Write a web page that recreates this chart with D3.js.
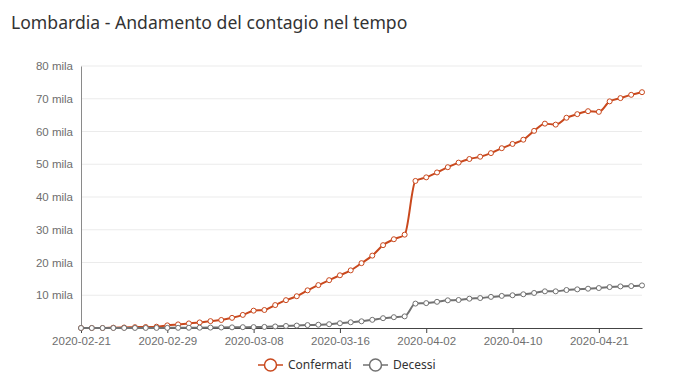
<!DOCTYPE html>
<html>
<head>
<meta charset="utf-8">
<script src="https://cdn.jsdelivr.net/npm/d3@7"></script>
<style>
  body { margin: 0; background: #fff; }
  svg { display: block; font-family: "Noto Sans", "Open Sans", sans-serif; }
  .grid line { stroke: #ebebeb; }
  .axis text { fill: #6e6e6e; font-size: 11.5px; }
</style>
</head>
<body>
<div id="chart"></div>
<script>
// dates on the x axis (source has a gap 03-23 .. 03-31)
var dates = [
  "2020-02-21","2020-02-22","2020-02-23","2020-02-24","2020-02-25","2020-02-26","2020-02-27","2020-02-28",
  "2020-02-29","2020-03-01","2020-03-02","2020-03-03","2020-03-04","2020-03-05","2020-03-06","2020-03-07",
  "2020-03-08","2020-03-09","2020-03-10","2020-03-11","2020-03-12","2020-03-13","2020-03-14","2020-03-15",
  "2020-03-16","2020-03-17","2020-03-18","2020-03-19","2020-03-20","2020-03-21","2020-03-22","2020-04-01",
  "2020-04-02","2020-04-03","2020-04-04","2020-04-05","2020-04-06","2020-04-07","2020-04-08","2020-04-09",
  "2020-04-10","2020-04-11","2020-04-13","2020-04-14","2020-04-15","2020-04-17","2020-04-18","2020-04-20",
  "2020-04-21","2020-04-22","2020-04-23","2020-04-24","2020-04-25"
];

var confermati = [
  0, 0, 0, 100, 150, 250, 300, 400,
  800, 1100, 1400, 1700, 2100, 2450, 3100, 4000,
  5300, 5500, 7000, 8500, 9700, 11500, 13100, 14600,
  16100, 17600, 19800, 22100, 25300, 27100, 28500, 44900,
  46000, 47500, 49100, 50500, 51600, 52300, 53400, 54900,
  56200, 57500, 60200, 62400, 62100, 64200, 65300, 66200,
  66000, 69200, 70200, 71200, 72000
];

var decessi = [
  0, 0, 0, 5, 10, 15, 20, 25,
  40, 55, 75, 100, 130, 160, 200, 250,
  270, 330, 470, 620, 740, 890, 1000, 1150,
  1450, 1750, 2050, 2500, 3000, 3300, 3550, 7450,
  7600, 8000, 8450, 8550, 8950, 9150, 9500, 9800,
  10000, 10300, 10700, 11200, 11200, 11600, 11800, 12000,
  12200, 12500, 12700, 12800, 13000
];

var yTicks = [0, 10000, 20000, 30000, 40000, 50000, 60000, 70000, 80000];

var series = [
  {name: "Confermati", values: confermati, color: "#c9481d"},
  {name: "Decessi", values: decessi, color: "#717171"}
];

var w = 685, h = 391;
var margin = {top: 66, right: 43, bottom: 63, left: 81};
var iw = w - margin.left - margin.right;
var ih = h - margin.top - margin.bottom;

var svg = d3.select("#chart").append("svg")
            .attr("width", w)
            .attr("height", h);

svg.append("text")
   .attr("x", 11)
   .attr("y", 29)
   .attr("fill", "#333")
   .style("font-size", "17.6px")
   .text("Lombardia - Andamento del contagio nel tempo");

var g = svg.append("g")
           .attr("transform", "translate(" + margin.left + "," + margin.top + ")");

var x = d3.scalePoint().domain(dates).range([0, iw]);
var y = d3.scaleLinear().domain([0, 80000]).range([ih, 0]);

// horizontal grid
g.append("g")
 .attr("class", "grid")
 .selectAll("line")
 .data(yTicks.slice(1))
 .enter().append("line")
 .attr("x1", 0).attr("x2", iw)
 .attr("y1", function(d){ return y(d); })
 .attr("y2", function(d){ return y(d); });

// y axis
var yAxis = g.append("g")
             .attr("class", "axis")
             .call(d3.axisLeft(y)
                     .tickValues(yTicks)
                     .tickSize(0)
                     .tickPadding(8)
                     .tickFormat(function(d){ return d === 0 ? "" : (d / 1000) + " mila"; }));
yAxis.select(".domain").attr("stroke", "#8a8a8a");

// x axis
var xAxis = g.append("g")
             .attr("class", "axis")
             .attr("transform", "translate(0," + ih + ")")
             .call(d3.axisBottom(x)
                     .tickValues(dates.filter(function(d, i){ return i % 8 === 0; }))
                     .tickSize(5)
                     .tickPadding(4)
                     .tickSizeOuter(0));
xAxis.select(".domain").attr("stroke", "#444");
xAxis.selectAll(".tick line").attr("stroke", "#444");

var line = d3.line()
             .x(function(d, i){ return x(dates[i]); })
             .y(function(d){ return y(d); })
             .curve(d3.curveMonotoneX);

series.forEach(function(s){
  var sg = g.append("g");
  sg.append("path")
    .attr("d", line(s.values))
    .attr("fill", "none")
    .attr("stroke", s.color)
    .attr("stroke-width", 2);
  sg.selectAll("circle")
    .data(s.values)
    .enter().append("circle")
    .attr("cx", function(d, i){ return x(dates[i]); })
    .attr("cy", function(d){ return y(d); })
    .attr("r", 2.5)
    .attr("fill", "#fff")
    .attr("stroke", s.color)
    .attr("stroke-width", 1);
});

// legend
var legend = svg.append("g").attr("transform", "translate(0,365)");
var lx = [258, 363];
series.forEach(function(s, i){
  var lg = legend.append("g").attr("transform", "translate(" + lx[i] + ",0)");
  lg.append("line")
    .attr("x1", 0).attr("x2", 25)
    .attr("stroke", s.color).attr("stroke-width", 1.5);
  lg.append("circle")
    .attr("cx", 12.5).attr("r", 6)
    .attr("fill", "#fff")
    .attr("stroke", s.color).attr("stroke-width", 1.5);
  lg.append("text")
    .attr("x", 30).attr("dy", "0.35em")
    .attr("fill", "#333")
    .style("font-size", "12px")
    .text(s.name);
});
</script>
</body>
</html>
